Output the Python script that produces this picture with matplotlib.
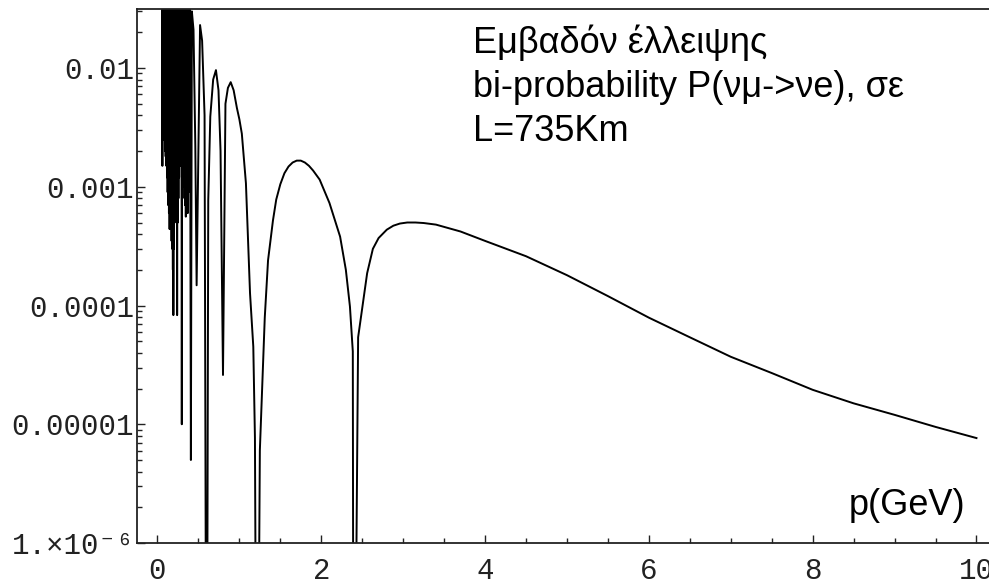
import matplotlib
matplotlib.use("Agg")
import matplotlib.pyplot as plt
from matplotlib.ticker import FixedLocator, NullFormatter

# Values: p in GeV, area of the ellipse (log scale).
# Below p = 0.4 the curve swings so fast that it shows as a black band.
band_p = [
    0.056, 0.060, 0.064, 0.068, 0.072, 0.076, 0.080, 0.084, 0.088, 0.092,
    0.096, 0.100, 0.104, 0.108, 0.112, 0.116, 0.120, 0.124, 0.128, 0.132,
    0.136, 0.140, 0.144, 0.148, 0.152, 0.156, 0.160, 0.164, 0.168, 0.172,
    0.176, 0.180, 0.184, 0.188, 0.191, 0.194, 0.198, 0.202, 0.206, 0.210,
    0.214, 0.218, 0.222, 0.226, 0.230, 0.234, 0.237, 0.240, 0.244, 0.248,
    0.252, 0.256, 0.260, 0.264, 0.268, 0.272, 0.276, 0.280, 0.284, 0.288,
    0.292, 0.297, 0.302, 0.306, 0.310, 0.314, 0.318, 0.322, 0.326, 0.330,
    0.334, 0.338, 0.342, 0.346, 0.350, 0.354, 0.358, 0.362, 0.366, 0.370,
    0.374, 0.378, 0.382, 0.386, 0.390, 0.396,
]
band_v = [
    5e-2, 1.5e-3, 5e-2, 4e-3, 5e-2, 2.5e-3, 5e-2, 3e-3, 5e-2, 2e-3,
    5e-2, 1.8e-3, 5e-2, 1.5e-3, 5e-2, 1.2e-3, 5e-2, 9e-4, 5e-2, 7e-4,
    5e-2, 6e-4, 5e-2, 4.4e-4, 5e-2, 5e-4, 5e-2, 4.5e-4, 5e-2, 3.5e-4,
    5e-2, 3e-4, 5e-2, 2e-4, 5e-2, 8.3e-5, 5e-2, 3e-4, 5e-2, 5e-4,
    5e-2, 8e-4, 5e-2, 1.5e-3, 5e-2, 1e-3, 5e-2, 8.3e-5, 5e-2, 5e-4,
    5e-2, 8e-4, 5e-2, 1.2e-3, 5e-2, 1.6e-3, 5e-2, 2e-3, 5e-2, 1.5e-3,
    5e-2, 1.0e-5, 1.6e-2, 2e-3, 1.8e-2, 1.2e-3, 5e-2, 1e-3, 5e-2, 8e-4,
    5e-2, 7e-4, 5e-2, 5.6e-4, 5e-2, 8e-4, 5e-2, 1e-3, 5e-2, 6e-4,
    5e-2, 9e-4, 5e-2, 1.5e-3, 5e-2, 4e-2,
]
curve_p = [
    0.408, 0.420, 0.440, 0.462, 0.478, 0.520, 0.545, 0.575, 0.600, 0.620,
    0.645, 0.680, 0.714, 0.745, 0.770, 0.800, 0.830, 0.860, 0.894, 0.930,
    0.970, 1.000, 1.030, 1.080, 1.130, 1.170, 1.190, 1.215, 1.250, 1.310,
    1.350, 1.410, 1.450, 1.500, 1.550, 1.600, 1.650, 1.700, 1.750, 1.800,
    1.850, 1.900, 1.980, 2.100, 2.230, 2.300, 2.350, 2.385, 2.395, 2.450,
    2.560, 2.630, 2.700, 2.800, 2.880, 2.960, 3.050, 3.150, 3.250, 3.400,
    3.700, 4.000, 4.500, 5.000, 5.500, 6.000, 6.500, 7.000, 7.500, 8.000,
    8.500, 9.000, 9.500, 10.00,
]
curve_v = [
    5.0e-6, 3e-2, 2.1e-2, 2.2e-3, 1.48e-4, 2.3e-2, 1.7e-2, 4e-3, 1e-9, 7.7e-4,
    3.9e-3, 8e-3, 9.6e-3, 6.5e-3, 2e-3, 2.6e-5, 5e-3, 6.8e-3, 7.6e-3, 6.5e-3,
    4.6e-3, 3.7e-3, 2.8e-3, 1.07e-3, 1.27e-4, 4.5e-5, 7.7e-6, 1e-9, 6e-6, 7.9e-5,
    2.4e-4, 5.2e-4, 7.8e-4, 1.05e-3, 1.3e-3, 1.48e-3, 1.6e-3, 1.66e-3, 1.66e-3, 1.6e-3,
    1.5e-3, 1.37e-3, 1.15e-3, 7.3e-4, 3.8e-4, 2e-4, 9.8e-5, 4.1e-5, 1e-9, 5.4e-5,
    1.87e-4, 3.0e-4, 3.7e-4, 4.35e-4, 4.7e-4, 4.9e-4, 5.0e-4, 5.0e-4, 4.95e-4, 4.8e-4,
    4.2e-4, 3.5e-4, 2.6e-4, 1.8e-4, 1.2e-4, 7.9e-5, 5.4e-5, 3.7e-5, 2.7e-5, 1.95e-5,
    1.5e-5, 1.2e-5, 9.5e-6, 7.65e-6,
]

x_ticks = [0, 2, 4, 6, 8, 10]
x_labels = ["0", "2", "4", "6", "8", "10"]
y_ticks = [1e-6, 1e-5, 1e-4, 1e-3, 1e-2]
y_labels = ["1.×10⁻⁶", "0.00001", "0.0001", "0.001", "0.01"]

title_lines = ["Εμβαδόν έλλειψης", "bi-probability P(νμ->νe), σε", "L=735Km"]
x_name = "p(GeV)"

W, H = 989, 584
fig = plt.figure(figsize=(W / 100, H / 100), dpi=100)
ax = fig.add_axes([137 / W, (H - 543) / H, (W - 137) / W, (543 - 9) / H])

ax.plot(band_p + curve_p, band_v + curve_v, color="black", lw=1.4)

ax.set_yscale("log")
ax.set_xlim(-0.25, 10.153)
ax.set_ylim(1e-6, 0.0314)

mono = ["Liberation Mono", "DejaVu Sans Mono"]
ax.set_xticks(x_ticks)
ax.set_xticklabels(x_labels, family=mono, fontsize=21, color="#222222")
ax.xaxis.set_minor_locator(FixedLocator([i * 0.5 for i in range(21) if i % 4]))
ax.set_yticks(y_ticks)
ax.set_yticklabels(y_labels, family=mono, fontsize=21, color="#222222")
minor_y = [m * 10.0 ** e for e in range(-6, -1) for m in range(2, 10)]
ax.yaxis.set_minor_locator(FixedLocator(minor_y))
ax.yaxis.set_minor_formatter(NullFormatter())

ax.tick_params(which="major", direction="in", length=6, width=1.0, colors="#222222")
ax.tick_params(which="minor", direction="in", length=3.5, width=1.0, colors="#222222")
ax.tick_params(axis="x", which="major", pad=10)
ax.tick_params(axis="y", which="major", pad=2)
ax.tick_params(top=False, right=False)

for side in ["left", "bottom", "top"]:
    ax.spines[side].set_linewidth(1.3)
    ax.spines[side].set_color("#222222")
ax.spines["right"].set_visible(False)

# Text in the plot.
sans = ["Liberation Sans", "DejaVu Sans"]
for i, line in enumerate(title_lines):
    fig.text(473 / W, 1 - (53 + 44 * i) / H, line, family=sans, fontsize=26,
             va="baseline", ha="left")
fig.text(965 / W, 1 - 515 / H, x_name, family=sans, fontsize=26,
         va="baseline", ha="right")

fig.savefig("out.png", dpi=100)
